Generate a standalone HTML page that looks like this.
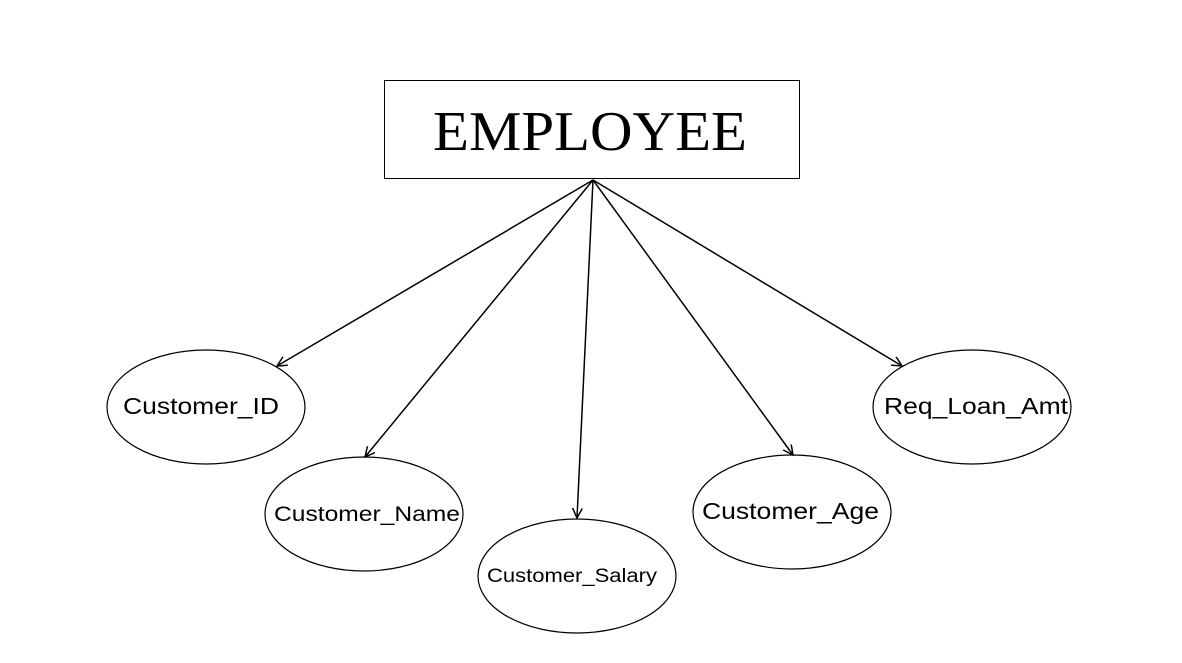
<!DOCTYPE html>
<html><head><meta charset="utf-8"><style>html,body{margin:0;padding:0;background:#fff}</style></head>
<body>
<svg width="1182" height="658" viewBox="0 0 1182 658" xmlns="http://www.w3.org/2000/svg">
<defs><marker id="a" markerWidth="12" markerHeight="12" refX="10" refY="5" orient="auto" markerUnits="userSpaceOnUse"><path d="M0,0 L10,5 L0,10" fill="none" stroke="#000" stroke-width="1.5"/></marker></defs>
<rect x="384.5" y="80.5" width="415" height="98" fill="#fff" stroke="#000" stroke-width="1"/>
<text x="590" y="150" font-family="Liberation Serif, serif" font-size="56" text-anchor="middle" textLength="314" lengthAdjust="spacingAndGlyphs">EMPLOYEE</text>
<g stroke="#000" stroke-width="1.5" fill="none">
<line x1="593" y1="180" x2="277" y2="366" marker-end="url(#a)"/>
<line x1="593" y1="180" x2="365" y2="457" marker-end="url(#a)"/>
<line x1="593" y1="180" x2="577" y2="518" marker-end="url(#a)"/>
<line x1="593" y1="180" x2="793" y2="455" marker-end="url(#a)"/>
<line x1="593" y1="180" x2="902" y2="366" marker-end="url(#a)"/>
</g>
<g stroke="#000" stroke-width="1.2" fill="none">
<ellipse cx="206" cy="407" rx="99" ry="57"/>
<ellipse cx="364" cy="514" rx="99" ry="57"/>
<ellipse cx="577" cy="576" rx="99" ry="57"/>
<ellipse cx="792" cy="512" rx="99" ry="57"/>
<ellipse cx="972" cy="407" rx="99" ry="57"/>
</g>
<g font-family="Liberation Sans, sans-serif" fill="#000" lengthAdjust="spacingAndGlyphs">
<text x="123" y="414" font-size="23" textLength="156" lengthAdjust="spacingAndGlyphs">Customer_ID</text>
<text x="274" y="521" font-size="21" textLength="186" lengthAdjust="spacingAndGlyphs">Customer_Name</text>
<text x="487" y="582" font-size="19" textLength="170" lengthAdjust="spacingAndGlyphs">Customer_Salary</text>
<text x="702" y="519" font-size="23" textLength="177" lengthAdjust="spacingAndGlyphs">Customer_Age</text>
<text x="884" y="414" font-size="23" textLength="184" lengthAdjust="spacingAndGlyphs">Req_Loan_Amt</text>
</g>
</svg>
</body></html>
